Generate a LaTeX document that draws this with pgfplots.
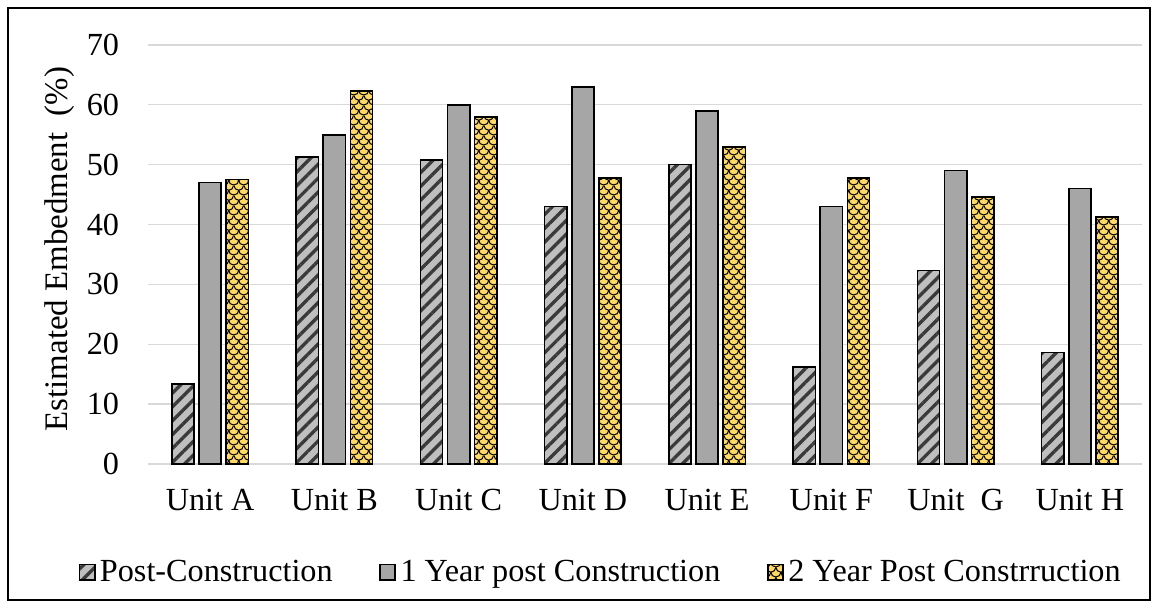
\documentclass[border=0pt]{standalone}
\usepackage{fontspec}
\setmainfont{Liberation Serif}
\usepackage{pgfplots}
\pgfplotsset{compat=1.18}
\usetikzlibrary{patterns.meta}

\definecolor{hatchbg}{HTML}{BFBFBF}
\definecolor{hatchfg}{HTML}{3A3A3A}
\definecolor{midgray}{HTML}{A6A6A6}
\definecolor{sand}{HTML}{FFD966}
\definecolor{gridc}{HTML}{D9D9D9}

\tikzdeclarepattern{
  name=scales,
  type=uncolored,
  bounding box={(0,0) and (4.6pt,4.6pt)},
  tile size={(4.6pt,4.6pt)},
  code={
    \draw[line width=0.5pt] (0,4.6pt) arc[start angle=180,end angle=360,radius=2.3pt];
    \draw[line width=0.5pt] (-2.3pt,2.3pt) arc[start angle=180,end angle=360,radius=2.3pt];
    \draw[line width=0.5pt] (2.3pt,2.3pt) arc[start angle=180,end angle=360,radius=2.3pt];
  }
}

\begin{document}
\begin{tikzpicture}
\begin{axis}[
    at={(0,0)}, anchor=south west,
    scale only axis,
    width=447.3pt, height=188.6pt,
    ybar=2.2pt,
    bar width=10pt,
    xmin=-0.5, xmax=7.5,
    ymin=0, ymax=70,
    ytick={0,10,...,70},
    xtick={0,...,7},
    xticklabels={Unit A, Unit B, Unit C, Unit D, Unit E, Unit F, Unit\ \ G, Unit H},
    major tick length=0pt,
    axis line style={draw=none},
    ymajorgrids,
    major grid style={draw=gridc, line width=0.6pt},
    tick label style={font=\fontsize{14.5}{17}\selectfont},
    /pgf/number format/assume math mode=true,
    yticklabel style={xshift=-9.5pt},
    xticklabel style={yshift=-8pt},
    ylabel={Estimated Embedment\ \ (\%)},
    ylabel style={at={(axis description cs:-0.0885,0.513)}, anchor=center,
      font=\fontsize{14.8}{17}\selectfont},
    legend columns=3,
    legend style={at={(axis description cs:0.4567,-0.258)}, anchor=center,
      draw=none, fill=none, font=\fontsize{14.5}{17}\selectfont,
      /tikz/every even column/.append style={column sep=19pt}},
    legend image code/.code={\draw[#1] (-1.5pt,-3.4pt) rectangle (5.3pt,3.4pt);},
]
\addplot[draw=black, line width=0.75pt, fill=hatchbg,
  postaction={pattern={Lines[angle=45,distance=4.4pt,line width=1.5pt]}, pattern color=hatchfg}]
  coordinates {(0,13.4) (1,51.3) (2,50.8) (3,43.0) (4,50.0) (5,16.2) (6,32.3) (7,18.6)};
\addplot[draw=black, line width=0.75pt, fill=midgray]
  coordinates {(0,47.0) (1,55.0) (2,60.0) (3,63.0) (4,59.0) (5,43.0) (6,49.0) (7,46.0)};
\addplot[draw=black, line width=0.75pt, fill=sand,
  postaction={pattern=scales, pattern color=black}]
  coordinates {(0,47.5) (1,62.3) (2,58.0) (3,47.8) (4,53.0) (5,47.8) (6,44.6) (7,41.3)};
\legend{Post-Construction, 1 Year post Construction, 2 Year Post Constrruction}
\end{axis}
\draw[line width=0.9pt] (-63pt,-61.2pt) rectangle (450.9pt,205.2pt);
\useasboundingbox (-66.6pt,-64.35pt) rectangle (454.5pt,208.8pt);
\end{tikzpicture}
\end{document}
